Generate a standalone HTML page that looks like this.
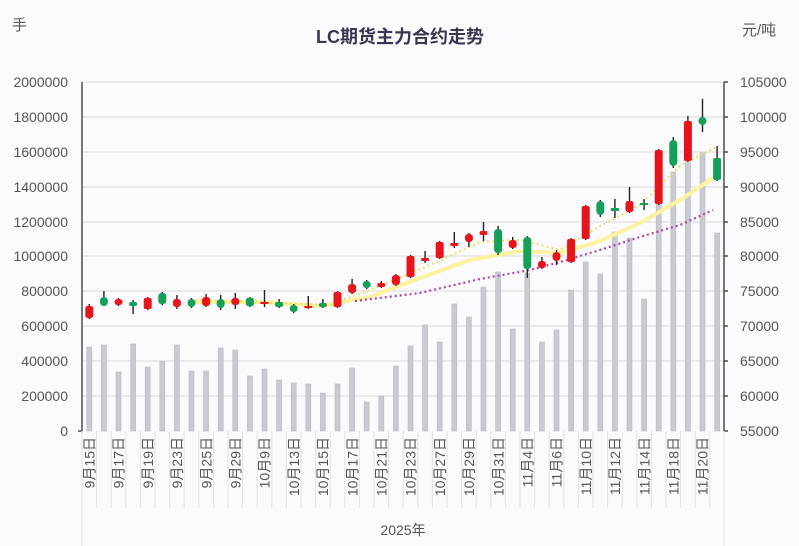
<!DOCTYPE html>
<html><head><meta charset="utf-8"><style>
html,body{margin:0;padding:0;background:#fbfbfd;}
svg{display:block;font-family:"Liberation Sans","Noto Sans CJK SC",sans-serif;}
</style></head><body>
<svg width="799" height="546" viewBox="0 0 799 546" xmlns="http://www.w3.org/2000/svg">
<rect width="799" height="546" fill="#fbfbfd"/>
<text x="400" y="43" text-anchor="middle" font-size="18" font-weight="600" fill="#3a3650">LC期货主力合约走势</text>
<text x="12" y="30" font-size="15" fill="#555">手</text>
<text x="742" y="35" font-size="15" fill="#555">元/吨</text>
<g stroke="#d8d8dc" stroke-width="1">
<line x1="82" x2="724" y1="82" y2="82"/><line x1="82" x2="724" y1="117" y2="117"/><line x1="82" x2="724" y1="152" y2="152"/><line x1="82" x2="724" y1="187" y2="187"/><line x1="82" x2="724" y1="222" y2="222"/><line x1="82" x2="724" y1="256" y2="256"/><line x1="82" x2="724" y1="291" y2="291"/><line x1="82" x2="724" y1="326" y2="326"/><line x1="82" x2="724" y1="361" y2="361"/><line x1="82" x2="724" y1="396" y2="396"/>
</g>
<g font-size="14" fill="#555" text-anchor="end">
<text x="68" y="87">2000000</text><text x="68" y="122">1800000</text><text x="68" y="157">1600000</text><text x="68" y="192">1400000</text><text x="68" y="227">1200000</text><text x="68" y="261">1000000</text><text x="68" y="296">800000</text><text x="68" y="331">600000</text><text x="68" y="366">400000</text><text x="68" y="401">200000</text><text x="68" y="436">0</text>
</g>
<g font-size="14" fill="#555">
<text x="740" y="87">105000</text><text x="740" y="122">100000</text><text x="740" y="157">95000</text><text x="740" y="192">90000</text><text x="740" y="227">85000</text><text x="740" y="261">80000</text><text x="740" y="296">75000</text><text x="740" y="331">70000</text><text x="740" y="366">65000</text><text x="740" y="401">60000</text><text x="740" y="436">55000</text>
</g>
<g fill="#cacad2" stroke="#b8b8c2" stroke-width="0.6">
<rect x="86.8" y="347" width="5" height="84"/><rect x="101.4" y="345" width="5" height="86"/><rect x="116" y="372" width="5" height="59"/><rect x="130.6" y="344" width="5" height="87"/><rect x="145.2" y="367" width="5" height="64"/><rect x="159.8" y="361" width="5" height="70"/><rect x="174.4" y="345" width="5" height="86"/><rect x="189" y="371" width="5" height="60"/><rect x="203.6" y="371" width="5" height="60"/><rect x="218.2" y="348" width="5" height="83"/><rect x="232.8" y="350" width="5" height="81"/><rect x="247.4" y="376" width="5" height="55"/><rect x="262" y="369" width="5" height="62"/><rect x="276.6" y="380" width="5" height="51"/><rect x="291.2" y="383" width="5" height="48"/><rect x="305.8" y="384" width="5" height="47"/><rect x="320.4" y="393" width="5" height="38"/><rect x="335" y="384" width="5" height="47"/><rect x="349.6" y="368" width="5" height="63"/><rect x="364.2" y="402" width="5" height="29"/><rect x="378.8" y="396" width="5" height="35"/><rect x="393.4" y="366" width="5" height="65"/><rect x="408" y="346" width="5" height="85"/><rect x="422.6" y="325" width="5" height="106"/><rect x="437.2" y="342" width="5" height="89"/><rect x="451.8" y="304" width="5" height="127"/><rect x="466.4" y="317" width="5" height="114"/><rect x="481" y="287" width="5" height="144"/><rect x="495.6" y="272" width="5" height="159"/><rect x="510.2" y="329" width="5" height="102"/><rect x="524.8" y="273" width="5" height="158"/><rect x="539.4" y="342" width="5" height="89"/><rect x="554" y="330" width="5" height="101"/><rect x="568.6" y="290" width="5" height="141"/><rect x="583.2" y="262" width="5" height="169"/><rect x="597.8" y="274" width="5" height="157"/><rect x="612.4" y="232" width="5" height="199"/><rect x="627" y="238" width="5" height="193"/><rect x="641.6" y="299" width="5" height="132"/><rect x="656.2" y="203" width="5" height="228"/><rect x="670.8" y="172" width="5" height="259"/><rect x="685.4" y="162" width="5" height="269"/><rect x="700" y="153" width="5" height="278"/><rect x="714.6" y="233" width="5" height="198"/>
</g>
<polyline fill="none" stroke="#fbf3a0" stroke-width="4" stroke-linecap="round" points="190,302 260,302 320,306 370,297 420,278 470,260 520,251 560,253 600,241 640,223 680,200 716,176"/>
<polyline fill="none" stroke="#efe060" stroke-width="2" stroke-dasharray="2,3" points="190,300 260,302 330,305 380,286 430,265 480,242 520,240 560,250 600,226 640,205 680,166 716,147"/>
<polyline fill="none" stroke="#b040b0" stroke-width="2.2" stroke-dasharray="2,3" points="355,301 420,293 480,279 530,270 560,262 600,250 640,237 680,225 713,210"/>
<g stroke="#222" stroke-width="1.4">
<line x1="89.3" x2="89.3" y1="304" y2="319"/><line x1="103.9" x2="103.9" y1="291" y2="306"/><line x1="118.5" x2="118.5" y1="298" y2="306"/><line x1="133.1" x2="133.1" y1="300" y2="314"/><line x1="147.7" x2="147.7" y1="297" y2="310"/><line x1="162.3" x2="162.3" y1="292" y2="305"/><line x1="176.9" x2="176.9" y1="295" y2="309"/><line x1="191.5" x2="191.5" y1="298" y2="308"/><line x1="206.1" x2="206.1" y1="294" y2="307"/><line x1="220.7" x2="220.7" y1="295" y2="310"/><line x1="235.3" x2="235.3" y1="293" y2="309"/><line x1="249.9" x2="249.9" y1="297" y2="307"/><line x1="264.5" x2="264.5" y1="290" y2="307"/><line x1="279.1" x2="279.1" y1="299" y2="308"/><line x1="293.7" x2="293.7" y1="304" y2="313"/><line x1="308.3" x2="308.3" y1="296" y2="309"/><line x1="322.9" x2="322.9" y1="299" y2="308"/><line x1="337.5" x2="337.5" y1="291" y2="308"/><line x1="352.1" x2="352.1" y1="279" y2="294"/><line x1="366.7" x2="366.7" y1="280" y2="289"/><line x1="381.3" x2="381.3" y1="281" y2="288"/><line x1="395.9" x2="395.9" y1="274" y2="286"/><line x1="410.5" x2="410.5" y1="255" y2="278"/><line x1="425.1" x2="425.1" y1="251" y2="263"/><line x1="439.7" x2="439.7" y1="241" y2="259"/><line x1="454.3" x2="454.3" y1="232" y2="248"/><line x1="468.9" x2="468.9" y1="233" y2="247"/><line x1="483.5" x2="483.5" y1="222" y2="241"/><line x1="498.1" x2="498.1" y1="226" y2="255"/><line x1="512.7" x2="512.7" y1="237" y2="249"/><line x1="527.3" x2="527.3" y1="236" y2="278"/><line x1="541.9" x2="541.9" y1="257" y2="269"/><line x1="556.5" x2="556.5" y1="250" y2="265"/><line x1="571.1" x2="571.1" y1="238" y2="263"/><line x1="585.7" x2="585.7" y1="205" y2="240"/><line x1="600.3" x2="600.3" y1="200" y2="217"/><line x1="614.9" x2="614.9" y1="199" y2="218"/><line x1="629.5" x2="629.5" y1="187" y2="213"/><line x1="644.1" x2="644.1" y1="199" y2="210"/><line x1="658.7" x2="658.7" y1="149" y2="205"/><line x1="673.3" x2="673.3" y1="137" y2="168"/><line x1="687.9" x2="687.9" y1="116" y2="162"/><line x1="702.5" x2="702.5" y1="99" y2="132"/><line x1="717.1" x2="717.1" y1="146" y2="181"/>
</g>
<g>
<rect x="85.3" y="306" width="8" height="12" rx="2.5" fill="#e8141b"/>
<rect x="99.9" y="297" width="8" height="9" rx="4" fill="#15a05a"/>
<rect x="114.5" y="299" width="8" height="6" rx="3" fill="#e8141b"/>
<rect x="129.1" y="302" width="8" height="4" rx="2" fill="#15a05a"/>
<rect x="143.7" y="298" width="8" height="11" rx="2" fill="#e8141b"/>
<rect x="158.3" y="293" width="8" height="11" rx="3" fill="#15a05a"/>
<rect x="172.9" y="299" width="8" height="8" rx="3" fill="#e8141b"/>
<rect x="187.5" y="299" width="8" height="8" rx="4" fill="#15a05a"/>
<rect x="202.1" y="297" width="8" height="9" rx="3" fill="#e8141b"/>
<rect x="216.7" y="299" width="8" height="9" rx="4" fill="#15a05a"/>
<rect x="231.3" y="298" width="8" height="7" rx="3" fill="#e8141b"/>
<rect x="245.9" y="298" width="8" height="8" rx="2" fill="#15a05a"/>
<rect x="260.5" y="302" width="8" height="2" fill="#e8141b"/>
<rect x="275.1" y="302" width="8" height="5" rx="2" fill="#15a05a"/>
<rect x="289.7" y="305" width="8" height="7" rx="3.5" fill="#15a05a"/>
<rect x="304.3" y="306" width="8" height="2" fill="#e8141b"/>
<rect x="318.9" y="303" width="8" height="4" rx="2" fill="#15a05a"/>
<rect x="333.5" y="292" width="8" height="15" rx="2" fill="#e8141b"/>
<rect x="348.1" y="284" width="8" height="9" rx="3" fill="#e8141b"/>
<rect x="362.7" y="281" width="8" height="7" rx="3.5" fill="#15a05a"/>
<rect x="377.3" y="283" width="8" height="4" rx="2" fill="#e8141b"/>
<rect x="391.9" y="275" width="8" height="10" rx="3" fill="#e8141b"/>
<rect x="406.5" y="256" width="8" height="21" rx="2" fill="#e8141b"/>
<rect x="421.1" y="258" width="8" height="3" rx="1" fill="#e8141b"/>
<rect x="435.7" y="242" width="8" height="16" rx="2" fill="#e8141b"/>
<rect x="450.3" y="243" width="8" height="3" rx="1" fill="#e8141b"/>
<rect x="464.9" y="234" width="8" height="8" rx="3.5" fill="#e8141b"/>
<rect x="479.5" y="231" width="8" height="4" rx="2" fill="#e8141b"/>
<rect x="494.1" y="229" width="8" height="24" rx="3.5" fill="#15a05a"/>
<rect x="508.7" y="240" width="8" height="8" rx="3" fill="#e8141b"/>
<rect x="523.3" y="237" width="8" height="32" rx="3.5" fill="#15a05a"/>
<rect x="537.9" y="261" width="8" height="7" rx="3" fill="#e8141b"/>
<rect x="552.5" y="252" width="8" height="9" rx="4" fill="#e8141b"/>
<rect x="567.1" y="239" width="8" height="23" rx="2" fill="#e8141b"/>
<rect x="581.7" y="206" width="8" height="33" rx="2" fill="#e8141b"/>
<rect x="596.3" y="201" width="8" height="14" rx="4" fill="#15a05a"/>
<rect x="610.9" y="208" width="8" height="3" fill="#15a05a"/>
<rect x="625.5" y="201" width="8" height="11" rx="2.5" fill="#e8141b"/>
<rect x="640.1" y="203" width="8" height="2" fill="#15a05a"/>
<rect x="654.7" y="150" width="8" height="54" rx="2" fill="#e8141b"/>
<rect x="669.3" y="140" width="8" height="26" rx="4" fill="#15a05a"/>
<rect x="683.9" y="121" width="8" height="40" rx="2" fill="#e8141b"/>
<rect x="698.5" y="117" width="8" height="8" rx="4" fill="#15a05a"/>
<rect x="713.1" y="158" width="8" height="22" rx="2" fill="#15a05a"/>
</g>
<g stroke="#333" stroke-width="1.3" fill="none">
<line x1="82" y1="82" x2="82" y2="431"/>
<line x1="724" y1="82" x2="724" y2="431"/>
<line x1="78" y1="431" x2="82" y2="431"/>
<line x1="724" y1="82" x2="728" y2="82"/><line x1="724" y1="117" x2="728" y2="117"/><line x1="724" y1="152" x2="728" y2="152"/><line x1="724" y1="187" x2="728" y2="187"/><line x1="724" y1="222" x2="728" y2="222"/><line x1="724" y1="256" x2="728" y2="256"/><line x1="724" y1="291" x2="728" y2="291"/><line x1="724" y1="326" x2="728" y2="326"/><line x1="724" y1="361" x2="728" y2="361"/><line x1="724" y1="396" x2="728" y2="396"/><line x1="724" y1="431" x2="728" y2="431"/>
</g>
<g stroke="#e2e2e8" stroke-width="1">
<line x1="82" y1="431" x2="82" y2="546"/><line x1="724" y1="431" x2="724" y2="546"/>
<line x1="96.6" y1="431" x2="96.6" y2="508"/><line x1="111.2" y1="431" x2="111.2" y2="508"/><line x1="125.8" y1="431" x2="125.8" y2="508"/><line x1="140.4" y1="431" x2="140.4" y2="508"/><line x1="155" y1="431" x2="155" y2="508"/><line x1="169.6" y1="431" x2="169.6" y2="508"/><line x1="184.2" y1="431" x2="184.2" y2="508"/><line x1="198.8" y1="431" x2="198.8" y2="508"/><line x1="213.4" y1="431" x2="213.4" y2="508"/><line x1="228" y1="431" x2="228" y2="508"/><line x1="242.6" y1="431" x2="242.6" y2="508"/><line x1="257.2" y1="431" x2="257.2" y2="508"/><line x1="271.8" y1="431" x2="271.8" y2="508"/><line x1="286.4" y1="431" x2="286.4" y2="508"/><line x1="301" y1="431" x2="301" y2="508"/><line x1="315.6" y1="431" x2="315.6" y2="508"/><line x1="330.2" y1="431" x2="330.2" y2="508"/><line x1="344.8" y1="431" x2="344.8" y2="508"/><line x1="359.4" y1="431" x2="359.4" y2="508"/><line x1="374" y1="431" x2="374" y2="508"/><line x1="388.6" y1="431" x2="388.6" y2="508"/><line x1="403.2" y1="431" x2="403.2" y2="508"/><line x1="417.8" y1="431" x2="417.8" y2="508"/><line x1="432.4" y1="431" x2="432.4" y2="508"/><line x1="447" y1="431" x2="447" y2="508"/><line x1="461.6" y1="431" x2="461.6" y2="508"/><line x1="476.2" y1="431" x2="476.2" y2="508"/><line x1="490.8" y1="431" x2="490.8" y2="508"/><line x1="505.4" y1="431" x2="505.4" y2="508"/><line x1="520" y1="431" x2="520" y2="508"/><line x1="534.6" y1="431" x2="534.6" y2="508"/><line x1="549.2" y1="431" x2="549.2" y2="508"/><line x1="563.8" y1="431" x2="563.8" y2="508"/><line x1="578.4" y1="431" x2="578.4" y2="508"/><line x1="593" y1="431" x2="593" y2="508"/><line x1="607.6" y1="431" x2="607.6" y2="508"/><line x1="622.2" y1="431" x2="622.2" y2="508"/><line x1="636.8" y1="431" x2="636.8" y2="508"/><line x1="651.4" y1="431" x2="651.4" y2="508"/><line x1="666" y1="431" x2="666" y2="508"/><line x1="680.6" y1="431" x2="680.6" y2="508"/><line x1="695.2" y1="431" x2="695.2" y2="508"/><line x1="709.8" y1="431" x2="709.8" y2="508"/>
</g>
<g font-size="14" fill="#555" text-anchor="end">
<text transform="translate(94.5,437) rotate(-90)">9月15日</text>
<text transform="translate(123.7,437) rotate(-90)">9月17日</text>
<text transform="translate(152.9,437) rotate(-90)">9月19日</text>
<text transform="translate(182.1,437) rotate(-90)">9月23日</text>
<text transform="translate(211.3,437) rotate(-90)">9月25日</text>
<text transform="translate(240.5,437) rotate(-90)">9月29日</text>
<text transform="translate(269.7,437) rotate(-90)">10月9日</text>
<text transform="translate(298.9,437) rotate(-90)">10月13日</text>
<text transform="translate(328.1,437) rotate(-90)">10月15日</text>
<text transform="translate(357.3,437) rotate(-90)">10月17日</text>
<text transform="translate(386.5,437) rotate(-90)">10月21日</text>
<text transform="translate(415.7,437) rotate(-90)">10月23日</text>
<text transform="translate(444.9,437) rotate(-90)">10月27日</text>
<text transform="translate(474.1,437) rotate(-90)">10月29日</text>
<text transform="translate(503.3,437) rotate(-90)">10月31日</text>
<text transform="translate(532.5,437) rotate(-90)">11月4日</text>
<text transform="translate(561.7,437) rotate(-90)">11月6日</text>
<text transform="translate(590.9,437) rotate(-90)">11月10日</text>
<text transform="translate(620.1,437) rotate(-90)">11月12日</text>
<text transform="translate(649.3,437) rotate(-90)">11月14日</text>
<text transform="translate(678.5,437) rotate(-90)">11月18日</text>
<text transform="translate(707.7,437) rotate(-90)">11月20日</text>
</g>
<text x="403" y="535" text-anchor="middle" font-size="14" fill="#555">2025年</text>
</svg>
</body></html>
